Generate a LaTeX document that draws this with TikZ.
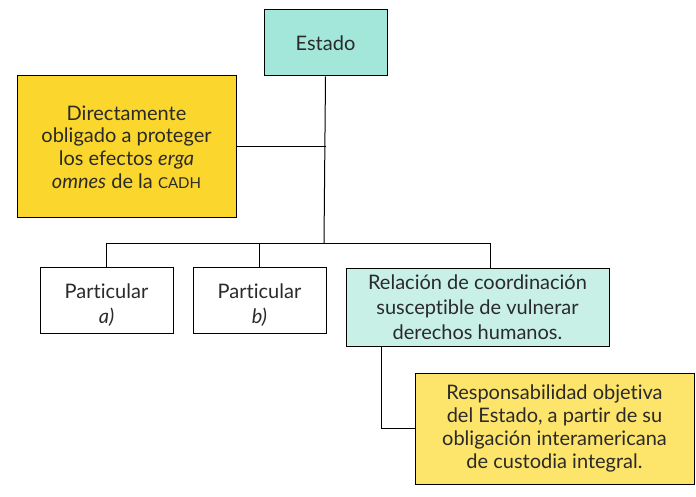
\documentclass[tikz,border=0pt]{standalone}
\usepackage{fontspec}
\setmainfont{Lato}[Ligatures=NoCommon]
\definecolor{teal1}{HTML}{A3E6DA}
\definecolor{mint}{HTML}{C8F0E7}
\definecolor{yell1}{HTML}{FBD62C}
\definecolor{yell2}{HTML}{FDE46A}
\definecolor{txt}{HTML}{2A2A2A}
\begin{document}
\begin{tikzpicture}[x=1pt,y=-1pt,
  box/.style={draw=black,line width=1pt,inner sep=0pt,align=center,text=txt,
    font=\fontsize{20}{22.7}\selectfont},
  wide/.style={font=\fontsize{20}{25}\selectfont},
  conn/.style={draw=black,line width=1pt}]
\useasboundingbox (0,0) rectangle (696,497);
\node[box,fill=teal1,minimum width=123pt,minimum height=66pt] (estado) at (325.5,43) {Estado};
\node[box,fill=yell1,minimum width=219pt,minimum height=142pt] (dir) at (126.5,147)
  {Directamente\\obligado a proteger\\los efectos \textit{erga}\\\textit{omnes} de la {\fontsize{15}{15}\selectfont CADH}};
\node[box,wide,fill=white,minimum width=133pt,minimum height=66pt] (pa) at (106.5,300) {\rule{0pt}{25pt}Particular\\\textit{a)}};
\node[box,wide,fill=white,minimum width=133pt,minimum height=66pt] (pb) at (259.5,300) {\rule{0pt}{25pt}Particular\\\textit{b)}};
\node[box,wide,fill=mint,minimum width=263pt,minimum height=78pt] (rel) at (477.5,307)
  {Relación de coordinación\\susceptible de vulnerar\\derechos humanos.};
\node[box,fill=yell2,minimum width=279pt,minimum height=111pt] (resp) at (554.5,428.5)
  {Responsabilidad objetiva\\del Estado, a partir de su\\obligación interamericana\\de custodia integral.};
\coordinate (bus) at (324,243);
\draw[conn] (estado.south) -- (bus);
\draw[conn] (dir.east) -- (dir.east -| estado.south);
\draw[conn] (pa.north) |- (bus);
\draw[conn] (pb.north) |- (bus);
\draw[conn] (rel.north -| 490,0) |- (bus);
\draw[conn] ([xshift=36pt]rel.south west) |- (resp.west);
\end{tikzpicture}
\end{document}
